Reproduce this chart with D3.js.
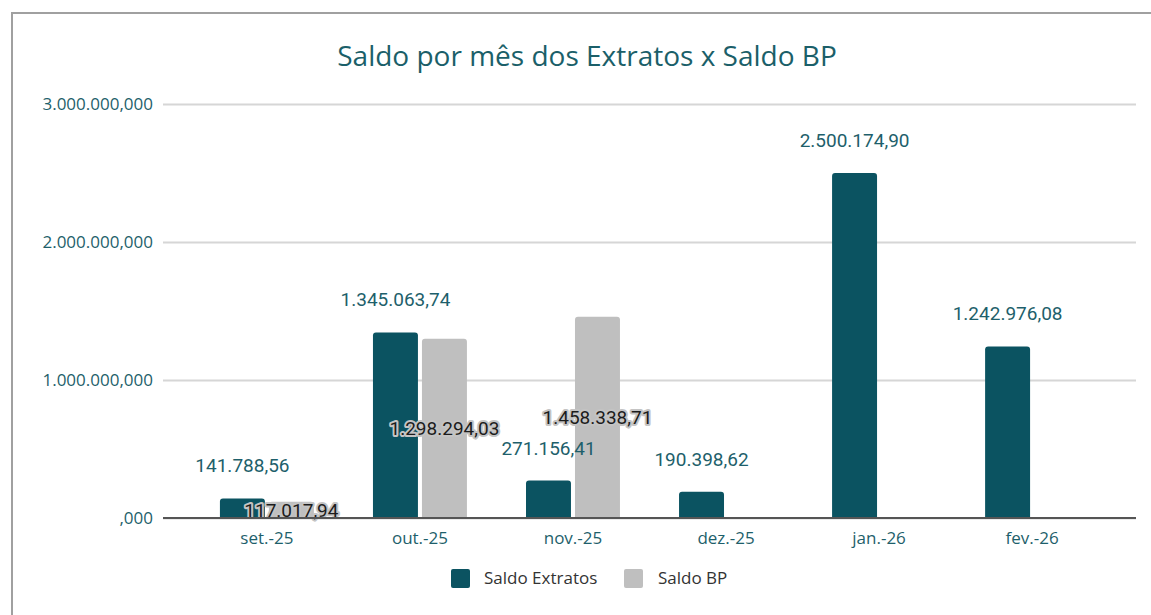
<!DOCTYPE html>
<html>
<head>
<meta charset="utf-8">
<script src="https://cdn.jsdelivr.net/npm/d3@7"></script>
<style>
  body { margin: 0; background: #fff; }
  svg { display: block; }
  .axis text { font-family: "Open Sans", sans-serif; fill: #1e5f6b; }
</style>
</head>
<body>
<div id="chart"></div>
<script>
// data (values as shown on the data labels)
var categories = ["set.-25", "out.-25", "nov.-25", "dez.-25", "jan.-26", "fev.-26"];
var saldoExtratos = [141788.56, 1345063.74, 271156.41, 190398.62, 2500174.90, 1242976.08];
var saldoBP = [117017.94, 1298294.03, 1458338.71, null, null, null];
var seriesNames = ["Saldo Extratos", "Saldo BP"];
var yTicks = [0, 1000000, 2000000, 3000000];

var width = 1151, height = 615;
var colExtratos = "#0b5361", colBP = "#bfbfbf";

var ptBR = d3.formatLocale({ decimal: ",", thousands: ".", grouping: [3], currency: ["R$", ""] });
var fmt2 = ptBR.format(",.2f"), fmt3 = ptBR.format(",.3f");
function tickFmt(d) { return d === 0 ? ",000" : fmt3(d); }

var svg = d3.select("#chart").append("svg")
  .attr("width", width).attr("height", height);

// frame of the chart box
svg.append("path")
  .attr("d", "M12,615 L12,13 L1151,13")
  .attr("fill", "none").attr("stroke", "#a0a0a0").attr("stroke-width", 2);

svg.append("text")
  .attr("x", 587).attr("y", 66)
  .attr("text-anchor", "middle")
  .style("font-family", "'Open Sans', sans-serif")
  .style("font-size", "28px")
  .style("fill", "#1b5f69")
  .text("Saldo por mês dos Extratos x Saldo BP");

var plotL = 163, plotR = 1136, plotT = 104, plotB = 518;

var y = d3.scaleLinear().domain([0, 3000000]).range([plotB, plotT]);

var x0 = d3.scaleBand().domain(categories).range([plotL, plotR])
  .paddingInner(0.386).paddingOuter(0.372);
var x1 = d3.scaleBand().domain(seriesNames).range([0, x0.bandwidth()])
  .paddingInner(0.082);

// y axis + gridlines
var gy = svg.append("g").attr("class", "axis")
  .attr("transform", "translate(" + plotL + ",0)")
  .call(d3.axisLeft(y).tickValues(yTicks).tickFormat(tickFmt)
    .tickSize(-(plotR - plotL)).tickPadding(10));
gy.select(".domain").remove();
gy.selectAll("line").attr("stroke", "#d6d6d6").attr("stroke-width", 2);
gy.selectAll("text").style("font-size", "17px");

// rounded-top bar path
function barPath(x, y0, w, h, r) {
  r = Math.min(r, h, w / 2);
  return "M" + x + "," + (y0 + h) +
    "V" + (y0 + r) + "Q" + x + "," + y0 + " " + (x + r) + "," + y0 +
    "H" + (x + w - r) + "Q" + (x + w) + "," + y0 + " " + (x + w) + "," + (y0 + r) +
    "V" + (y0 + h) + "Z";
}

var rows = categories.map(function(c, i) {
  return { cat: c, vals: [
    { s: seriesNames[0], v: saldoExtratos[i] },
    { s: seriesNames[1], v: saldoBP[i] }
  ]};
});

var groups = svg.append("g").selectAll("g.grp")
  .data(rows).enter().append("g")
  .attr("class", "grp")
  .attr("transform", function(d) { return "translate(" + x0(d.cat) + ",0)"; });

groups.selectAll("path.bar")
  .data(function(d) { return d.vals.filter(function(e) { return e.v != null; }); })
  .enter().append("path")
  .attr("class", "bar")
  .attr("fill", function(d) { return d.s === seriesNames[0] ? colExtratos : colBP; })
  .attr("d", function(d) {
    return barPath(x1(d.s), y(d.v), x1.bandwidth(), plotB - y(d.v), 3);
  });

// baseline
svg.append("line")
  .attr("x1", plotL).attr("x2", plotR)
  .attr("y1", plotB).attr("y2", plotB)
  .attr("stroke", "#555").attr("stroke-width", 2);

// x axis labels
var gx = svg.append("g").attr("class", "axis")
  .attr("transform", "translate(0," + plotB + ")")
  .call(d3.axisBottom(x0).tickSize(0).tickPadding(14));
gx.select(".domain").remove();
gx.selectAll("text").style("font-size", "17px");

// data labels: Saldo Extratos above the bars
groups.append("text")
  .filter(function(d) { return d.vals[0].v != null; })
  .attr("x", function(d) { return x1(seriesNames[0]) + x1.bandwidth() / 2; })
  .attr("y", function(d) { return y(d.vals[0].v) - 26; })
  .attr("text-anchor", "middle")
  .style("font-family", "Roboto, sans-serif")
  .style("font-size", "19px")
  .style("fill", "#1e5f6b")
  .text(function(d) { return fmt2(d.vals[0].v); });

// data labels: Saldo BP in the middle of the bars
groups.filter(function(d) { return d.vals[1].v != null; })
  .append("text")
  .attr("x", x1(seriesNames[1]) + x1.bandwidth() / 2)
  .attr("y", function(d) { return (y(d.vals[1].v) + plotB) / 2; })
  .attr("dy", "0.36em")
  .attr("text-anchor", "middle")
  .style("font-family", "Roboto, sans-serif")
  .style("font-size", "19px")
  .style("fill", "#1c1c1c")
  .style("stroke", "#c4c4c4")
  .style("stroke-width", 4)
  .style("stroke-linejoin", "round")
  .style("paint-order", "stroke")
  .text(function(d) { return fmt2(d.vals[1].v); });

// legend
var legend = svg.append("g").selectAll("g.leg")
  .data([{ name: seriesNames[0], c: colExtratos, x: 451, tx: 484 },
         { name: seriesNames[1], c: colBP, x: 624, tx: 658 }])
  .enter().append("g").attr("class", "leg");
legend.append("rect")
  .attr("x", function(d) { return d.x; }).attr("y", 569)
  .attr("width", 19).attr("height", 19).attr("rx", 2)
  .attr("fill", function(d) { return d.c; });
legend.append("text")
  .attr("x", function(d) { return d.tx; }).attr("y", 584)
  .style("font-family", "'Open Sans', sans-serif")
  .style("font-size", "17px")
  .style("fill", "#333")
  .text(function(d) { return d.name; });
</script>
</body>
</html>
